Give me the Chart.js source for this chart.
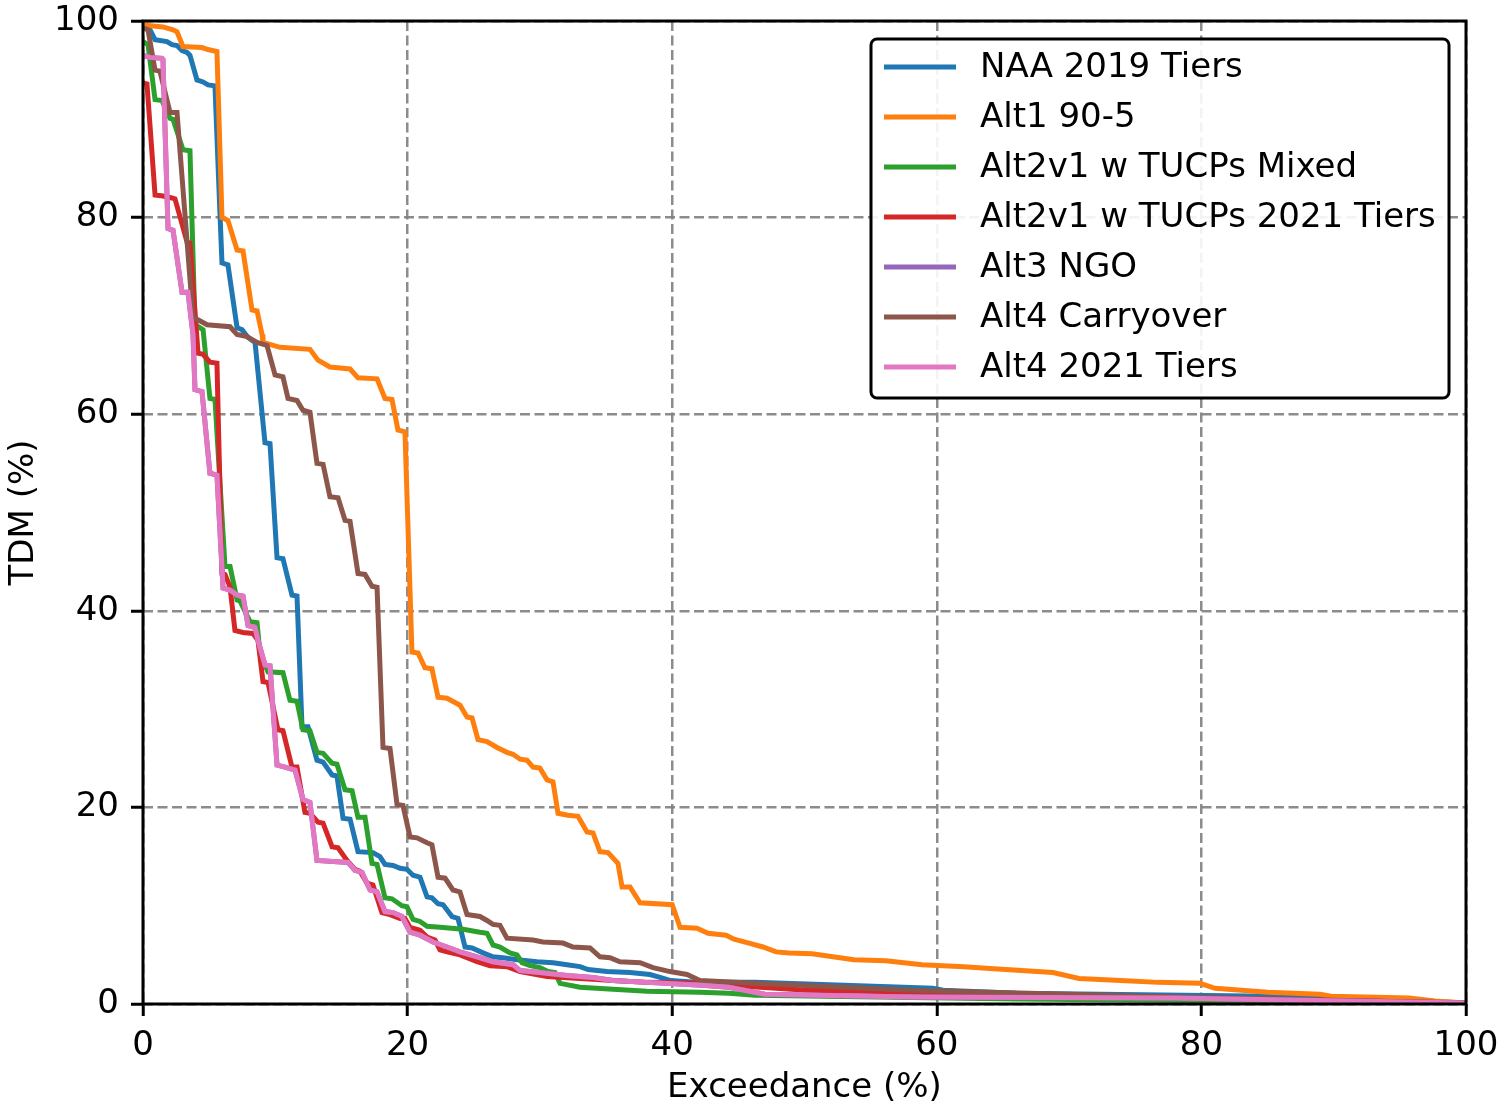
<!DOCTYPE html>
<html>
<head>
<meta charset="utf-8">
<script src="https://cdn.jsdelivr.net/npm/chart.js@4"></script>
<style>
  html, body { margin: 0; padding: 0; background: #fff; }
  #wrap { width: 1498px; height: 1109px; }
</style>
</head>
<body>
<div id="wrap"><canvas id="myChart" width="1498" height="1109"></canvas></div>
<script>
// exceedance (%) vs TDM (%) points
const naa2019Tiers = [
  [0, 99.5], [0.15, 99.3], [0.53, 99.1], [0.91, 98.1], [1.81, 97.9], [2.19, 97.6], [2.57, 97.5],
  [2.95, 97.0], [3.33, 96.8], [3.55, 96.5], [4.08, 94.0], [4.54, 93.8], [4.91, 93.5], [5.44, 93.4],
  [5.82, 80.3], [5.97, 75.4], [6.42, 75.2], [7.11, 68.8], [7.48, 68.6], [7.94, 67.8], [8.47, 67.3],
  [9.22, 57.1], [9.6, 57.0], [10.13, 45.4], [10.58, 45.3], [11.26, 41.6], [11.64, 41.5],
  [12.02, 28.2], [12.47, 28.2], [13.15, 24.8], [13.61, 24.6], [14.29, 23.3], [14.66, 23.2],
  [15.12, 18.9], [15.65, 18.8], [16.25, 15.5], [17.38, 15.4], [17.91, 15.0], [18.29, 14.2],
  [18.9, 14.1], [19.43, 13.8], [19.95, 13.7], [20.41, 13.1], [20.94, 12.9], [21.47, 10.9],
  [21.84, 10.8], [22.3, 10.2], [22.68, 10.1], [23.36, 8.9], [23.81, 8.7], [24.34, 5.8],
  [24.87, 5.7], [25.7, 5.2], [26.45, 4.8], [27.21, 4.7], [28.27, 4.5], [29.78, 4.3], [31.0, 4.2],
  [32.05, 4.0], [33.03, 3.8], [33.64, 3.5], [35.07, 3.3], [36.81, 3.2], [38.32, 3.0], [39.08, 2.7],
  [39.83, 2.4], [42.1, 2.2], [46.26, 2.2], [59.71, 1.6], [60.47, 1.4], [66.0, 1.1], [89.8, 0.7], [100, 0.1]
];
const alt1_90_5 = [
  [0, 99.6], [1.51, 99.4], [2.27, 99.1], [2.57, 98.9], [3.02, 97.4], [4.46, 97.3], [4.91, 97.1],
  [5.59, 96.9], [5.97, 80.0], [6.42, 79.7], [7.11, 76.7], [7.56, 76.6], [8.24, 70.6], [8.62, 70.5],
  [9.0, 68.1], [9.07, 67.3], [10.36, 66.8], [12.62, 66.6], [13.23, 65.5], [14.13, 64.8],
  [15.65, 64.6], [16.25, 63.7], [17.69, 63.6], [18.29, 61.6], [18.82, 61.5], [19.27, 58.4],
  [19.8, 58.2], [20.33, 35.8], [20.79, 35.7], [21.31, 34.2], [21.84, 34.1], [22.3, 31.2],
  [22.98, 31.1], [23.96, 30.4], [24.49, 29.2], [24.87, 29.1], [25.32, 26.9], [26.0, 26.7],
  [26.76, 26.1], [27.51, 25.6], [27.97, 25.4], [28.5, 24.9], [29.02, 24.8], [29.48, 24.1],
  [30.0, 24.0], [30.54, 22.8], [30.99, 22.6], [31.37, 19.4], [32.12, 19.2], [32.88, 19.1],
  [33.56, 17.5], [34.01, 17.4], [34.54, 15.5], [35.15, 15.4], [35.9, 14.3], [36.21, 11.9],
  [36.81, 11.9], [37.57, 10.3], [40.0, 10.1], [40.59, 7.8], [41.87, 7.7], [42.71, 7.2],
  [44.07, 7.0], [44.67, 6.6], [45.8, 6.2], [46.86, 5.8], [47.85, 5.3], [48.83, 5.2], [50.57, 5.1],
  [52.15, 4.8], [53.74, 4.5], [56.16, 4.4], [58.88, 4.0], [62.06, 3.8], [64.02, 3.6], [68.78, 3.2],
  [70.75, 2.6], [73.92, 2.4], [76.72, 2.2], [79.89, 2.1], [81.03, 1.6], [85.03, 1.2], [88.96, 1.0],
  [89.8, 0.8], [95.69, 0.6], [97.66, 0.3], [100, 0.1]
];
const alt2v1Mixed = [
  [0, 97.9], [0.38, 97.6], [0.91, 92.0], [1.44, 91.9], [2.04, 90.1], [2.27, 90.0], [3.02, 86.9],
  [3.55, 86.8], [3.93, 69.1], [4.54, 68.6], [5.06, 61.6], [5.44, 61.5], [6.2, 44.5], [6.58, 44.5],
  [7.11, 41.1], [7.33, 41.0], [8.09, 38.9], [8.62, 38.8], [8.84, 35.7], [9.45, 33.8], [10.58, 33.7],
  [11.11, 30.9], [11.64, 30.8], [12.09, 27.9], [12.62, 27.8], [13.15, 25.6], [13.61, 25.5],
  [14.29, 24.5], [14.66, 24.4], [15.27, 21.8], [15.8, 21.7], [16.25, 19.0], [16.78, 19.0],
  [17.31, 14.3], [17.69, 14.2], [18.29, 10.8], [18.82, 10.7], [19.57, 10.0], [19.95, 9.9],
  [20.41, 8.6], [20.94, 8.4], [21.47, 7.9], [22.45, 7.8], [24.19, 7.6], [25.47, 7.3], [26.0, 7.2],
  [26.46, 6.0], [26.98, 5.8], [27.74, 5.2], [28.27, 5.0], [28.65, 4.2], [29.25, 3.9], [30.0, 3.7],
  [30.61, 3.3], [31.14, 3.2], [31.52, 2.1], [33.03, 1.7], [35.53, 1.5], [38.1, 1.3], [42.1, 1.2],
  [44.29, 1.1], [46.26, 0.9], [66.0, 0.5], [100, 0.1]
];
const alt2v1Tiers2021 = [
  [0, 93.7], [0.3, 93.6], [0.91, 82.3], [1.51, 82.2], [2.19, 82.0], [2.42, 81.9], [3.33, 77.5],
  [3.55, 77.4], [4.16, 66.2], [4.54, 66.1], [5.06, 65.3], [5.59, 65.2], [5.97, 43.8], [6.2, 43.7],
  [6.58, 42.4], [6.95, 38.0], [7.56, 37.8], [8.31, 37.7], [8.69, 37.0], [9.07, 32.8], [9.45, 32.7],
  [10.2, 27.9], [10.58, 27.8], [11.26, 24.1], [11.64, 24.1], [12.24, 19.5], [12.62, 19.4],
  [13.23, 18.5], [13.61, 18.4], [14.29, 16.0], [14.74, 15.9], [15.42, 14.6], [16.02, 13.7],
  [16.4, 13.5], [16.93, 12.3], [17.38, 12.1], [18.06, 9.3], [18.67, 9.1], [19.43, 8.7], [19.8, 8.7],
  [20.18, 7.8], [20.94, 7.5], [21.47, 6.8], [22.07, 6.5], [22.45, 5.5], [22.98, 5.3], [23.96, 5.0],
  [25.25, 4.3], [26.23, 3.9], [27.51, 3.8], [28.5, 3.3], [30.54, 2.8], [33.03, 2.6], [35.53, 2.4],
  [38.1, 2.2], [42.1, 2.1], [44.29, 1.9], [50.19, 1.4], [66.0, 1.0], [100, 0.1]
];
const alt4Tiers2021 = [
  [0, 96.5], [0.53, 96.3], [1.44, 96.2], [1.51, 96.0], [1.89, 78.9], [2.27, 78.7], [2.95, 72.4],
  [3.4, 72.4], [3.78, 68.1], [3.93, 62.5], [4.46, 62.3], [5.06, 54.0], [5.59, 53.8], [6.05, 42.3],
  [6.58, 42.1], [7.11, 41.6], [7.56, 41.5], [7.94, 38.5], [8.47, 38.3], [8.69, 37.0], [9.22, 34.5],
  [9.6, 34.4], [10.13, 24.3], [10.73, 24.1], [11.49, 23.8], [12.09, 20.8], [12.62, 20.5],
  [13.15, 14.6], [15.5, 14.4], [16.02, 13.6], [16.55, 13.4], [17.16, 11.6], [17.69, 11.4],
  [18.29, 9.4], [18.9, 9.3], [19.58, 8.9], [20.18, 7.3], [20.94, 7.0], [21.92, 6.3], [22.98, 5.8],
  [23.96, 5.3], [25.25, 4.8], [26.45, 4.3], [27.97, 4.0], [28.5, 3.4], [30.0, 3.2], [32.05, 2.9],
  [34.01, 2.7], [35.53, 2.4], [38.1, 2.2], [42.25, 1.9], [44.29, 1.7], [47.0, 1.0], [58.1, 0.7],
  [77.9, 0.6], [100, 0.1]
];
// Alt3 NGO sits right under the Alt4 2021 Tiers line in the figure
const alt3NGO = alt4Tiers2021.slice();
const alt4Carryover = [
  [0, 99.3], [0.38, 99.1], [0.91, 95.0], [1.28, 94.9], [2.04, 90.7], [2.57, 90.7], [3.78, 69.8],
  [4.16, 69.6], [4.84, 69.1], [6.58, 68.9], [7.11, 68.1], [7.86, 67.9], [8.62, 67.3], [9.37, 67.0],
  [9.98, 64.0], [10.58, 63.8], [10.96, 61.6], [11.64, 61.4], [12.09, 60.4], [12.62, 60.2],
  [13.15, 55.0], [13.61, 54.9], [14.13, 51.6], [14.74, 51.5], [15.27, 49.2], [15.65, 49.1],
  [16.25, 43.8], [16.78, 43.7], [17.31, 42.5], [17.69, 42.4], [18.14, 26.1], [18.67, 26.0],
  [19.2, 20.3], [19.65, 20.2], [20.18, 17.0], [20.71, 16.9], [21.47, 16.4], [21.84, 16.2],
  [22.3, 12.9], [22.83, 12.8], [23.43, 11.6], [23.96, 11.4], [24.49, 9.1], [25.47, 8.9], [26.0, 8.5],
  [26.45, 8.1], [26.98, 8.0], [27.51, 6.7], [29.48, 6.5], [30.23, 6.3], [31.75, 6.2], [32.5, 5.8],
  [33.79, 5.7], [34.54, 4.8], [35.3, 4.7], [36.05, 4.3], [37.57, 4.2], [38.55, 3.7], [39.83, 3.3],
  [41.12, 3.0], [42.1, 2.4], [46.26, 2.1], [58.13, 1.4], [77.93, 0.7], [100, 0.1]
];

const seriesNames = ['NAA 2019 Tiers', 'Alt1 90-5', 'Alt2v1 w TUCPs Mixed', 'Alt2v1 w TUCPs 2021 Tiers',
                     'Alt3 NGO', 'Alt4 Carryover', 'Alt4 2021 Tiers'];
const seriesData = [naa2019Tiers, alt1_90_5, alt2v1Mixed, alt2v1Tiers2021, alt3NGO, alt4Carryover, alt4Tiers2021];
const tickValues = [0, 20, 40, 60, 80, 100];
const colors = ['#1f77b4', '#ff7f0e', '#2ca02c', '#d62728', '#9467bd', '#8c564b', '#e377c2'];

const FONT = 'DejaVu Sans';
const FSIZE = 34;

// matplotlib style frame + legend box inside the axes
const frameAndLegend = {
    id: 'frameAndLegend',
    afterDraw(chart) {
        const c = chart.ctx;
        const a = chart.chartArea;
        c.save();
        c.strokeStyle = '#000';
        c.lineWidth = 3;
        c.strokeRect(a.left, a.top, a.right - a.left, a.bottom - a.top);

        // legend
        const bx = 871, by = 39, bw = 578, bh = 359, r = 6;
        c.beginPath();
        c.moveTo(bx + r, by);
        c.arcTo(bx + bw, by, bx + bw, by + bh, r);
        c.arcTo(bx + bw, by + bh, bx, by + bh, r);
        c.arcTo(bx, by + bh, bx, by, r);
        c.arcTo(bx, by, bx + bw, by, r);
        c.closePath();
        c.fillStyle = 'rgba(255,255,255,0.9)';
        c.fill();
        c.lineWidth = 3;
        c.strokeStyle = '#000';
        c.stroke();

        c.font = FSIZE + 'px "' + FONT + '"';
        c.textBaseline = 'middle';
        chart.data.datasets.forEach((ds, i) => {
            const y = 67 + i * 50;
            c.strokeStyle = ds.borderColor;
            c.lineWidth = 5;
            c.beginPath();
            c.moveTo(884, y);
            c.lineTo(956, y);
            c.stroke();
            c.fillStyle = '#000';
            c.fillText(ds.label, 980, y + 1);
        });
        c.restore();
    }
};

document.addEventListener('DOMContentLoaded', function() {
    const ctx = document.getElementById('myChart').getContext('2d');

    // draw order like the figure: Alt3 under Alt4 2021 Tiers
    const datasets = seriesNames.map((name, i) => ({
        label: name,
        data: seriesData[i].map(p => ({ x: p[0], y: p[1] })),
        borderColor: colors[i],
        backgroundColor: colors[i],
        borderWidth: 5,
        pointRadius: 0,
        tension: 0,
        fill: false,
        order: seriesNames.length - i
    }));

    const gridStyle = {
        color: 'rgba(128,128,128,0.9)',
        lineWidth: 2.5,
        drawTicks: true,
        tickLength: 12,
        tickColor: '#000',
        tickWidth: 3
    };

    const config = {
        type: 'line',
        data: { datasets: datasets },
        options: {
            responsive: false,
            animation: false,
            layout: { padding: { top: 21, right: 32, left: 0, bottom: 0 } },
            plugins: { legend: { display: false }, tooltip: { enabled: false } },
            scales: {
                x: {
                    type: 'linear',
                    min: 0,
                    max: 100,
                    afterBuildTicks: s => { s.ticks = tickValues.map(v => ({ value: v })); },
                    grid: gridStyle,
                    border: { display: false, dash: [10, 4.5] },
                    ticks: { font: { family: FONT, size: FSIZE }, color: '#000', padding: 10, maxRotation: 0 },
                    title: { display: true, text: 'Exceedance (%)', font: { family: FONT, size: FSIZE, lineHeight: 1.0 }, color: '#000', padding: { top: 0, bottom: 4 } },
                    afterFit: s => { s.height = 105; s.paddingLeft = 0; s.paddingRight = 0; }
                },
                y: {
                    type: 'linear',
                    min: 0,
                    max: 100,
                    afterBuildTicks: s => { s.ticks = tickValues.map(v => ({ value: v })); },
                    grid: gridStyle,
                    border: { display: false, dash: [10, 4.5] },
                    ticks: { font: { family: FONT, size: FSIZE }, color: '#000', padding: 12 },
                    title: { display: true, text: 'TDM (%)', font: { family: FONT, size: FSIZE }, color: '#000', padding: { top: 4 } },
                    afterFit: s => { s.width = 143; s.paddingTop = 0; s.paddingBottom = 0; }
                }
            }
        },
        plugins: [frameAndLegend]
    };

    new Chart(ctx, config);
});
</script>
</body>
</html>
